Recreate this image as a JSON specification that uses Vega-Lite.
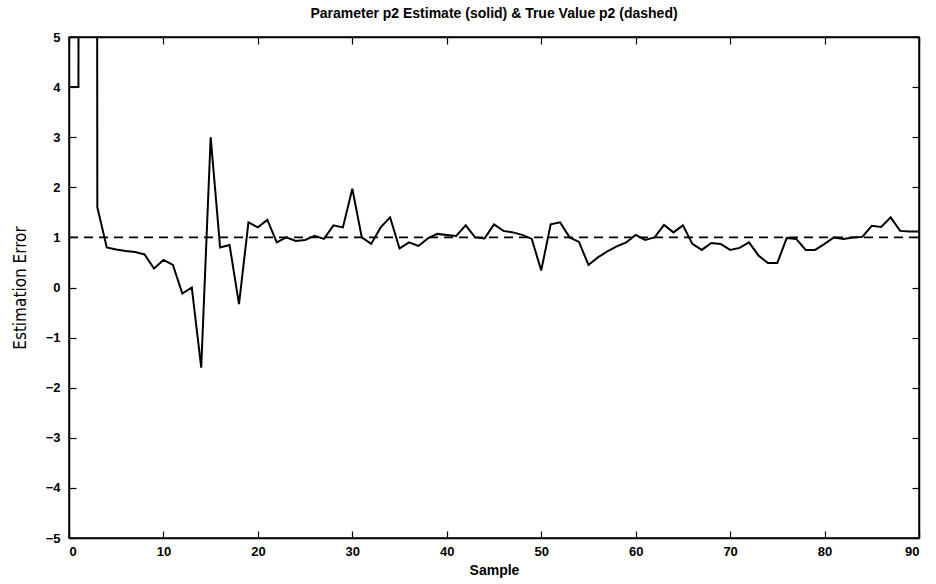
{
  "$schema": "https://vega.github.io/schema/vega-lite/v6.json",
  "autosize": "none",
  "width": 850,
  "height": 501,
  "padding": {"left": 69, "top": 37, "right": 17, "bottom": 46},
  "background": "white",
  "title": {"text": "Parameter p2 Estimate (solid) & True Value p2 (dashed)", "font": "Liberation Sans", "fontSize": 14, "fontWeight": "bold", "color": "black", "offset": 10, "anchor": "middle"},
  "config": {
    "view": {"stroke": "black", "strokeWidth": 1.5},
    "axis": {"grid": false, "domainColor": "black", "domainWidth": 1.5, "tickColor": "black", "tickWidth": 1.2, "labelColor": "black", "labelFont": "Liberation Sans", "labelFontSize": 13, "labelFontWeight": "bold", "titleColor": "black"}
  },
  "resolve": {"axis": {"x": "independent", "y": "independent"}},
  "layer": [
    {
      "data": {"values": [
        {"sample": 0, "value": 4.0}, {"sample": 1, "value": 4.0}, {"sample": 2, "value": 200}, {"sample": 3, "value": 1.6},
        {"sample": 4, "value": 0.8}, {"sample": 5, "value": 0.76}, {"sample": 6, "value": 0.73}, {"sample": 7, "value": 0.71},
        {"sample": 8, "value": 0.66}, {"sample": 9, "value": 0.38}, {"sample": 10, "value": 0.55}, {"sample": 11, "value": 0.45},
        {"sample": 12, "value": -0.12}, {"sample": 13, "value": 0.0}, {"sample": 14, "value": -1.6}, {"sample": 15, "value": 3.0},
        {"sample": 16, "value": 0.8}, {"sample": 17, "value": 0.85}, {"sample": 18, "value": -0.33}, {"sample": 19, "value": 1.3},
        {"sample": 20, "value": 1.2}, {"sample": 21, "value": 1.35}, {"sample": 22, "value": 0.9}, {"sample": 23, "value": 1.0},
        {"sample": 24, "value": 0.93}, {"sample": 25, "value": 0.95}, {"sample": 26, "value": 1.03}, {"sample": 27, "value": 0.97},
        {"sample": 28, "value": 1.24}, {"sample": 29, "value": 1.2}, {"sample": 30, "value": 1.97}, {"sample": 31, "value": 1.0},
        {"sample": 32, "value": 0.87}, {"sample": 33, "value": 1.2}, {"sample": 34, "value": 1.4}, {"sample": 35, "value": 0.78},
        {"sample": 36, "value": 0.9}, {"sample": 37, "value": 0.83}, {"sample": 38, "value": 0.98}, {"sample": 39, "value": 1.07},
        {"sample": 40, "value": 1.05}, {"sample": 41, "value": 1.03}, {"sample": 42, "value": 1.24}, {"sample": 43, "value": 1.0},
        {"sample": 44, "value": 0.98}, {"sample": 45, "value": 1.26}, {"sample": 46, "value": 1.13}, {"sample": 47, "value": 1.1},
        {"sample": 48, "value": 1.05}, {"sample": 49, "value": 0.97}, {"sample": 50, "value": 0.34}, {"sample": 51, "value": 1.26},
        {"sample": 52, "value": 1.3}, {"sample": 53, "value": 1.0}, {"sample": 54, "value": 0.91}, {"sample": 55, "value": 0.45},
        {"sample": 56, "value": 0.6}, {"sample": 57, "value": 0.72}, {"sample": 58, "value": 0.82}, {"sample": 59, "value": 0.9},
        {"sample": 60, "value": 1.05}, {"sample": 61, "value": 0.95}, {"sample": 62, "value": 1.0}, {"sample": 63, "value": 1.25},
        {"sample": 64, "value": 1.1}, {"sample": 65, "value": 1.24}, {"sample": 66, "value": 0.87}, {"sample": 67, "value": 0.75},
        {"sample": 68, "value": 0.89}, {"sample": 69, "value": 0.87}, {"sample": 70, "value": 0.75}, {"sample": 71, "value": 0.79},
        {"sample": 72, "value": 0.9}, {"sample": 73, "value": 0.64}, {"sample": 74, "value": 0.49}, {"sample": 75, "value": 0.49},
        {"sample": 76, "value": 0.99}, {"sample": 77, "value": 0.97}, {"sample": 78, "value": 0.75}, {"sample": 79, "value": 0.75},
        {"sample": 80, "value": 0.87}, {"sample": 81, "value": 1.0}, {"sample": 82, "value": 0.97}, {"sample": 83, "value": 1.0},
        {"sample": 84, "value": 1.01}, {"sample": 85, "value": 1.23}, {"sample": 86, "value": 1.21}, {"sample": 87, "value": 1.4},
        {"sample": 88, "value": 1.13}, {"sample": 89, "value": 1.12}, {"sample": 90, "value": 1.12}
      ]},
      "mark": {"type": "line", "color": "black", "strokeWidth": 2, "clip": true},
      "encoding": {
        "x": {"field": "sample", "type": "quantitative", "scale": {"domain": [0, 90], "nice": false, "zero": false},
              "axis": {"orient": "bottom", "values": [0,10,20,30,40,50,60,70,80,90], "tickSize": -7, "labelPadding": 14, "title": "Sample", "titleFont": "Liberation Sans", "titleFontSize": 14, "titleFontWeight": "bold", "titlePadding": 5}},
        "y": {"field": "value", "type": "quantitative", "scale": {"domain": [-5, 5], "nice": false, "zero": false},
              "axis": {"orient": "left", "values": [-5,-4,-3,-2,-1,0,1,2,3,4,5], "tickSize": -7, "labelPadding": 16, "title": "Estimation Error", "titleFont": "DejaVu Sans Condensed, Liberation Sans", "titleFontSize": 17, "titleFontWeight": "normal", "titlePadding": 16}}
      }
    },
    {
      "data": {"values": [{"sample": 0, "value": 1}, {"sample": 90, "value": 1}]},
      "mark": {"type": "line", "color": "black", "strokeWidth": 1.6, "strokeDash": [9, 6]},
      "encoding": {
        "x": {"field": "sample", "type": "quantitative", "axis": {"orient": "top", "values": [0,10,20,30,40,50,60,70,80,90], "tickSize": -7, "labels": false, "title": null}},
        "y": {"field": "value", "type": "quantitative", "axis": {"orient": "right", "values": [-5,-4,-3,-2,-1,0,1,2,3,4,5], "tickSize": -7, "labels": false, "title": null}}
      }
    }
  ]
}
